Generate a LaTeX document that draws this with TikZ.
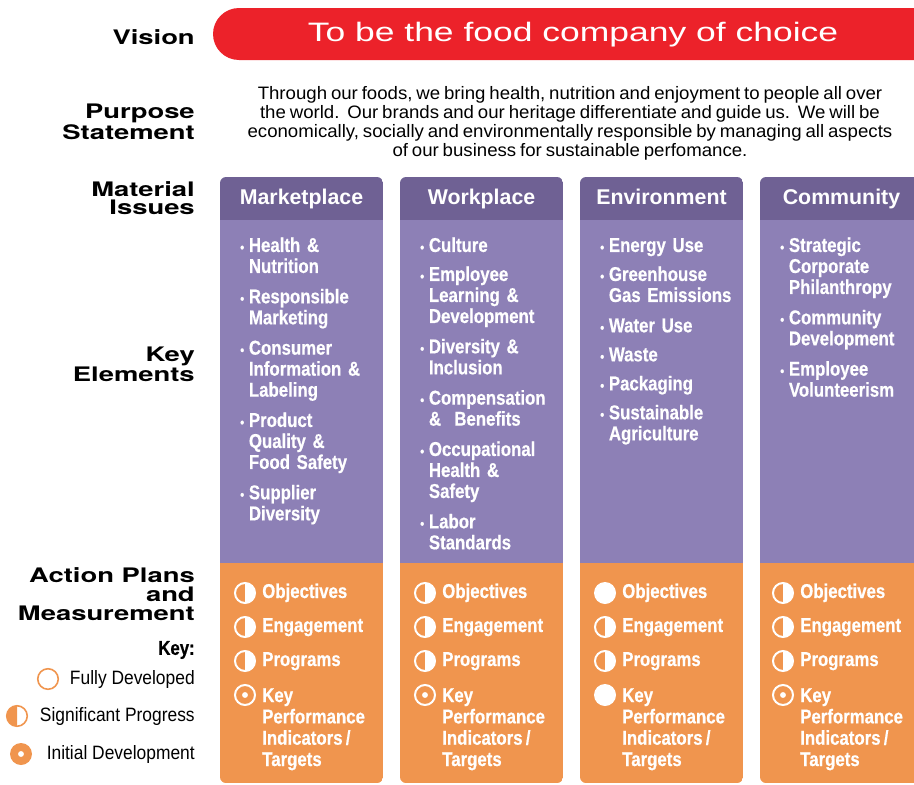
\documentclass[tikz,border=0pt]{standalone}
\usepackage{fontspec}
\setmainfont{Liberation Sans}
\newfontfamily\widefont[FakeStretch=1.37]{TeX Gyre Heros}
\newfontfamily\condfont[FakeStretch=0.84, WordSpace=0.7, BoldFeatures={FakeBold=0.5}]{Liberation Sans}
\newfontfamily\keyfont[FakeStretch=0.9]{Liberation Sans}
\newfontfamily\purpfont[FakeStretch=1.035, WordSpace=0.75]{Liberation Sans}
\newfontfamily\visfont[FakeStretch=1.33]{Liberation Sans}

\definecolor{visred}{RGB}{236,34,42}
\definecolor{headpurple}{RGB}{111,97,148}
\definecolor{bodypurple}{RGB}{141,128,182}
\definecolor{actorange}{RGB}{240,149,78}

% one bullet item of a key elements list
\newcommand\bul[1]{\noindent\makebox[6.5pt][l]{{\fontsize{10}{10}\selectfont\textbullet}}%
  \begin{tabular}[t]{@{}l@{}}#1\end{tabular}\par\vspace{6pt}}

\tikzset{
  rowlabel/.style={anchor=east, align=right, inner sep=0,
    font={\widefont\bfseries\fontsize{15}{14}\selectfont}},
  visiontext/.style={text=white, inner sep=0, font={\visfont\fontsize{20}{24}\selectfont}},
  purpose/.style={align=center, inner sep=0, font={\purpfont\fontsize{13.5}{14.25}\selectfont}},
  colname/.style={text=white, inner sep=0, text height=11.5pt, text depth=3.5pt,
    font={\bfseries\fontsize{16}{16}\selectfont}},
  elements/.style={anchor=north west, text width=120pt, text=white, inner sep=0,
    font={\condfont\bfseries\fontsize{15}{15.75}\selectfont}},
  plan/.style={anchor=west, align=left, text=white, inner sep=0, text height=11pt, text depth=3.5pt,
    font={\condfont\bfseries\fontsize{15}{16}\selectfont}},
  keytext/.style={anchor=east, inner sep=0, font={\keyfont\fontsize{14.5}{16}\selectfont}},
  % 0 = fully developed, 1 = significant progress, 2 = initial development
  pics/state/.style={code={
    \ifcase#1
      \fill[white] (0,0) circle[radius=8.25pt];
    \or
      \fill[white] (90:7.5pt) arc[start angle=90,end angle=-90,radius=7.5pt] -- cycle;
      \draw[white,line width=1.5pt] (0,0) circle[radius=7.5pt];
    \or
      \draw[white,line width=1.5pt] (0,0) circle[radius=7.5pt];
      \fill[white] (0,0) circle[radius=2.2pt];
    \fi}}
}

\begin{document}
\begin{tikzpicture}[x=0.75pt,y=-0.75pt]
\useasboundingbox (0,0) rectangle (914,785);
\clip (0,0) rectangle (914,785);

% vision
\fill[visred, rounded corners=19.5pt] (213,8) rectangle (960,60);
\node[visiontext] (vision) at (573,35) {To be the food company of choice};
\node[rowlabel] (vision-lbl) at (195,37) {Vision};

% purpose
\node[rowlabel] (purpose-lbl) at (195,122) {Purpose\\Statement};
\node[purpose] (purpose) at (570,123) {Through our foods, we bring health, nutrition and enjoyment to people all over\\
  the world.\ \ Our brands and our heritage differentiate and guide us.\ \ We will be\\
  economically, socially and environmentally responsible by managing all aspects\\
  of our business for sustainable perfomance.};

% row labels
\node[rowlabel] (issues-lbl) at (195,198) {Material\\Issues};
\node[rowlabel] (elements-lbl) at (195,364) {Key\\Elements};
\node[rowlabel] (action-lbl) at (195,594) {Action Plans\\and\\Measurement};

% the four columns
\foreach \x/\nm/\ttl in {220/mk/Marketplace, 400/wp/Workplace, 580/en/Environment, 760/cm/Community} {
  \begin{scope}
    \clip[rounded corners=4.5pt] (\x,177) rectangle (\x+163,783);
    \fill[headpurple] (\x,177) rectangle (\x+163,220);
    \fill[bodypurple] (\x,220) rectangle (\x+163,563);
    \fill[actorange] (\x,563) rectangle (\x+163,783);
  \end{scope}
  \node[colname] (\nm-head) at (\x+81.5,199) {\ttl};
}

% key elements
\node[elements] (mk-elems) at (240,237) {\bul{Health \&\\Nutrition}\bul{Responsible\\Marketing}%
  \bul{Consumer\\Information \&\\Labeling}\bul{Product\\Quality \&\\Food Safety}\bul{Supplier\\Diversity}};
\node[elements] (wp-elems) at (420,237) {\bul{Culture}\bul{Employee\\Learning \&\\Development}%
  \bul{Diversity \&\\Inclusion}\bul{Compensation\\\&\ \ Benefits}\bul{Occupational\\Health \&\\Safety}%
  \bul{Labor\\Standards}};
\node[elements] (en-elems) at (600,237) {\bul{Energy Use}\bul{Greenhouse\\Gas Emissions}\bul{Water Use}%
  \bul{Waste}\bul{Packaging}\bul{Sustainable\\Agriculture}};
\node[elements] (cm-elems) at (780,237) {\bul{Strategic\\Corporate\\Philanthropy}%
  \bul{Community\\Development}\bul{Employee\\Volunteerism}};

% action plans and measurement
\foreach \x/\nm/\a/\b/\c/\d in {245/mk/1/1/1/2, 425/wp/1/1/1/2, 605/en/0/1/1/0, 783/cm/1/1/1/2} {
  \pic at (\x,593) {state=\a};
  \node[plan] (\nm-obj) at (\x+17,593) {Objectives};
  \pic at (\x,627) {state=\b};
  \node[plan] (\nm-eng) at (\x+17,627) {Engagement};
  \pic at (\x,661) {state=\c};
  \node[plan] (\nm-prog) at (\x+17,661) {Programs};
  \pic at (\x,695) {state=\d};
  \node[plan, anchor=north west, text height=, text depth=] (\nm-kpi) at (\x+17,688) {Key\\Performance\\Indicators /\\Targets};
}

% key
\node[anchor=east, inner sep=0, font={\condfont\bfseries\fontsize{15}{16}\selectfont}] (key) at (195,650) {Key:};
\node[keytext] (full-lbl) at (195,679) {Fully Developed};
\node[keytext] (half-lbl) at (195,716) {Significant Progress};
\node[keytext] (dot-lbl) at (195,754) {Initial Development};
\draw[actorange, line width=1.2pt] (48,679) circle[radius=7.7pt];
\fill[actorange] (17,716) ++(90:7.7pt) arc[start angle=90,end angle=270,radius=7.7pt] -- cycle;
\draw[actorange, line width=1.2pt] (17,716) circle[radius=7.7pt];
\fill[actorange] (21,754) circle[radius=8.25pt];
\fill[white] (21,754) circle[radius=2.2pt];
\end{tikzpicture}
\end{document}
